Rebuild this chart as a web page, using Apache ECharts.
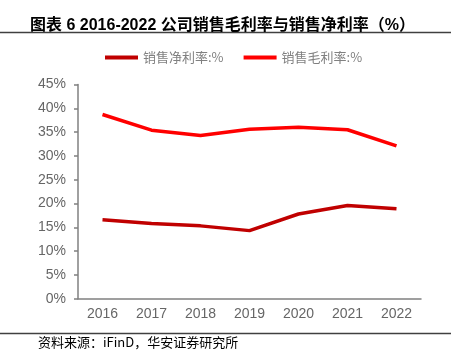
<!DOCTYPE html>
<html><head><meta charset="utf-8">
<script src="https://cdn.jsdelivr.net/npm/echarts@6/dist/echarts.min.js"></script>
<style>html,body{margin:0;padding:0;background:#fff}#c{width:451px;height:359px}</style>
</head><body><div id="c"></div>
<script>
const categories = ['2016','2017','2018','2019','2020','2021','2022'];
const netMargin = [16.6, 15.8, 15.3, 14.3, 17.8, 19.6, 18.9];
const grossMargin = [38.7, 35.4, 34.3, 35.6, 36.0, 35.5, 32.1];
const seriesNames = ['销售净利率:%', '销售毛利率:%'];
const titleText = '图表 6 2016-2022 公司销售毛利率与销售净利率（%）';
const sourceText = '资料来源：iFinD，华安证券研究所';

const chart = echarts.init(document.getElementById('c'), null, {renderer:'canvas'});
chart.setOption({
  animation:false,
  backgroundColor:'#fff',
  title:{text:titleText,left:25,top:13,textStyle:{fontFamily:'"Liberation Sans","Noto Sans CJK SC"',fontWeight:'bold',fontSize:16,color:'#000'}},
  legend:{left:100,top:46,itemWidth:33,itemHeight:4,itemGap:20,icon:'rect',
    textStyle:{fontFamily:'Noto Sans CJK SC',fontSize:13,color:'#808080'},
    data:seriesNames},
  grid:{left:78,right:30,top:84.5,bottom:60.3},
  xAxis:{type:'category',data:categories,boundaryGap:true,
    axisLine:{lineStyle:{color:'#808080',width:1.5}},
    axisTick:{length:4,lineStyle:{color:'#808080',width:1.5}},
    axisLabel:{color:'#666666',fontFamily:'Liberation Sans',fontSize:14,margin:8}},
  yAxis:{type:'value',min:0,max:45,interval:5,
    splitLine:{show:false},
    axisLine:{show:true,lineStyle:{color:'#808080',width:1.5}},
    axisTick:{show:true,length:4,lineStyle:{color:'#808080',width:1.5}},
    axisLabel:{color:'#666666',fontFamily:'Liberation Sans',fontSize:14,margin:12,formatter:'{value}%'}},
  graphic:[
    {type:'line',shape:{x1:0,y1:32.5,x2:451,y2:32.5},style:{stroke:'#404040',lineWidth:1.5}},
    {type:'line',shape:{x1:0,y1:333.5,x2:451,y2:333.5},style:{stroke:'#404040',lineWidth:1.5}},
    {type:'text',left:38,top:336,style:{text:sourceText,fontFamily:'Noto Sans CJK SC',fontSize:13,fill:'#000'}}
  ],
  series:[
    {name:seriesNames[0],type:'line',data:netMargin,symbol:'none',lineStyle:{color:'#C00000',width:3.5},itemStyle:{color:'#C00000'}},
    {name:seriesNames[1],type:'line',data:grossMargin,symbol:'none',lineStyle:{color:'#FF0000',width:3.5},itemStyle:{color:'#FF0000'}}
  ]
});
</script></body></html>
